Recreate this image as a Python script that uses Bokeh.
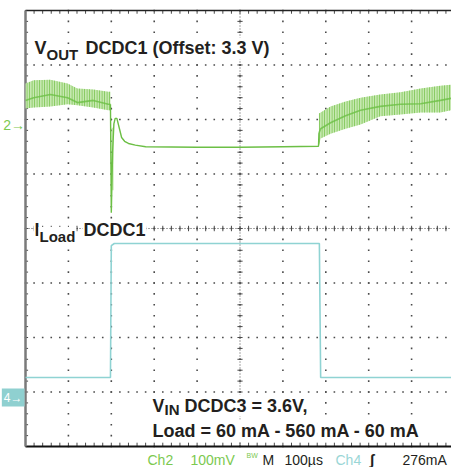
import numpy as np
from bokeh.plotting import figure
from bokeh.models import Range1d, Label
from bokeh.embed import file_html
from bokeh.resources import INLINE

# ---------------- data (time in µs, Ch2 in mV around 3.3 V offset, Ch4 in mA) ----------------
# Ch2 V_OUT DCDC1 ripple band before the load step
ch2_pre_t = [0, 19, 58, 98, 121, 158, 193, 198]
ch2_pre_top = [66, 72, 73, 66, 57, 55, 51, 51]
ch2_pre_bot = [20, 22, 24, 28, 26, 22, 17, 17]
ch2_pre_mid = [35, 40, 46, 40, 31, 35, 28, 28]

# Ch2 transient and flat part during the high load
ch2_step_t = [198, 200, 203, 206, 209, 213, 219, 224, 231, 240, 256, 280, 400, 500, 600, 683, 684]
ch2_step_mv = [28, -171, -60, -8, 2, 2, -17, -33, -40, -44, -47, -50, -51, -51, -50, -49, -25]
ch2_ghost_t = [203, 203]
ch2_ghost_mv = [-15, -130]

# Ch2 ripple band after the load release
ch2_post_t = [684, 688, 711, 746, 781, 827, 874, 921, 967, 993]
ch2_post_top = [11, 13, 24, 33, 40, 46, 50, 57, 62, 64]
ch2_post_bot = [-48, -35, -26, -17, -9, 6, 9, 13, 13, 17]
ch2_post_mid = [-25, -17, -6, 7, 17, 24, 28, 29, 35, 39]

# Ch4 load current
ch4_t = [0, 198, 200, 207, 685, 688, 993]
ch4_ma = [53, 53, 537, 545, 545, 53, 53]

# ---------------- scope geometry ----------------
US_PER_DIV = 100
N_XDIV, N_YDIV = 10, 8
W, H = 451, 467
X0, X1 = -58.3, 993.0
Y0, Y1 = -0.385, 8.183
CH2_ZERO_DIV, CH2_MV_PER_DIV = 6, 100
CH4_ZERO_DIV, CH4_MA_PER_DIV = 1, 200

GREEN = "#6cbf45"
GREEN_LIGHT = "#c6e8b0"
CYAN = "#8fd3d3"
INK = "#231f20"
GRID = "#4a4a4a"


def px2t(px):
    return (px - 25) / 0.429


def py2d(py):
    return (446 - py) / 54.5


p = figure(width=W, height=H, output_backend="svg", toolbar_location=None,
           x_range=Range1d(X0, X1), y_range=Range1d(Y0, Y1),
           x_axis_type=None, y_axis_type=None, min_border=0,
           outline_line_color=None, background_fill_color="white",
           border_fill_color="white")
p.extra_y_ranges = {
    "ch2": Range1d((Y0 - CH2_ZERO_DIV) * CH2_MV_PER_DIV, (Y1 - CH2_ZERO_DIV) * CH2_MV_PER_DIV),
    "ch4": Range1d((Y0 - CH4_ZERO_DIV) * CH4_MA_PER_DIV, (Y1 - CH4_ZERO_DIV) * CH4_MA_PER_DIV),
}

# ---------------- graticule ----------------
minor_x = np.arange(0, N_XDIV * US_PER_DIV + 1, US_PER_DIV / 5)
minor_y = np.arange(0, N_YDIV + 0.001, 0.2)
major_x = np.arange(0, N_XDIV * US_PER_DIV + 1, US_PER_DIV)
major_y = np.arange(0, N_YDIV + 1, 1)
dx, dy = [], []
for mx in major_x[1:]:
    for my in minor_y:
        dx.append(mx); dy.append(my)
for my in major_y[1:-1]:
    for mx in minor_x:
        dx.append(mx); dy.append(my)
p.scatter(dx, dy, marker="square", size=1.6, fill_color=GRID, line_color=None)

# centre cross with minor ticks
cx, cy = N_XDIV * US_PER_DIV / 2, N_YDIV / 2
p.segment(x0=[cx], y0=[0], x1=[cx], y1=[N_YDIV], line_color=GRID, line_dash="1 2", line_width=1)
p.segment(x0=[0], y0=[cy], x1=[N_XDIV * US_PER_DIV], y1=[cy], line_color=GRID, line_dash="1 2", line_width=1)
p.segment(x0=[cx - 6] * len(minor_y), y0=list(minor_y), x1=[cx + 6] * len(minor_y), y1=list(minor_y),
          line_color=GRID, line_width=1)
p.segment(x0=list(minor_x), y0=[cy - 0.05] * len(minor_x), x1=list(minor_x), y1=[cy + 0.05] * len(minor_x),
          line_color=GRID, line_width=1)

# border ticks
p.segment(x0=list(minor_x), y0=[N_YDIV] * len(minor_x), x1=list(minor_x), y1=[N_YDIV - 0.06] * len(minor_x),
          line_color=GRID, line_width=1)
p.segment(x0=list(minor_x), y0=[0] * len(minor_x), x1=list(minor_x), y1=[0.07] * len(minor_x),
          line_color=GRID, line_width=1)
p.segment(x0=[0] * len(minor_y), y0=list(minor_y), x1=[6] * len(minor_y), y1=list(minor_y),
          line_color=GRID, line_width=1)

# borders
p.line([0, N_XDIV * US_PER_DIV], [N_YDIV, N_YDIV], line_color="#222222", line_width=1.5)
p.line([0, N_XDIV * US_PER_DIV], [0, 0], line_color="#111111", line_width=2)
p.line([0, 0], [0, N_YDIV], line_color="#7a7a7a", line_width=2.5)

# ---------------- traces ----------------
for t, top, bot, mid in ((ch2_pre_t, ch2_pre_top, ch2_pre_bot, ch2_pre_mid),
                         (ch2_post_t, ch2_post_top, ch2_post_bot, ch2_post_mid)):
    p.varea(x=t, y1=bot, y2=top, y_range_name="ch2", fill_color=GREEN_LIGHT,
            hatch_pattern="|", hatch_color="#7cc653", hatch_scale=2.5, hatch_weight=1)
    p.line(t, mid, y_range_name="ch2", line_color=GREEN, line_width=1.6, line_alpha=0.8)

p.line(ch2_ghost_t, ch2_ghost_mv, y_range_name="ch2", line_color=GREEN_LIGHT, line_width=2)
p.line(ch2_step_t, ch2_step_mv, y_range_name="ch2", line_color=GREEN, line_width=1.4)

p.line(ch4_t, ch4_ma, y_range_name="ch4", line_color=CYAN, line_width=1.6)

# ---------------- annotations ----------------
def lab(text, px, py, size, color=INK, style="bold", bg="white", align="left", pad=1):
    p.add_layout(Label(x=px2t(px), y=py2d(py), text=text, text_font="Liberation Sans",
                       text_font_size=f"{size}px", text_font_style=style, text_color=color,
                       text_align=align, text_baseline="alphabetic",
                       background_fill_color=bg, padding=pad))


lab("V", 33, 48, 18)
lab("OUT", 45, 54, 15)
lab("DCDC1 (Offset: 3.3 V)", 84, 48, 18)

lab("I", 33, 230, 18)
lab("Load", 38, 236, 15)
lab("DCDC1", 82, 230, 18)

lab("V", 151, 405, 18)
lab("IN", 163, 409, 15)
lab("DCDC3 = 3.6V,", 183, 405, 18)
lab("Load = 60 mA - 560 mA - 60 mA", 151, 430, 18)

# channel markers
lab("2→", 24.5, 125, 14, color="#7cc94f", style="normal", bg=None, align="right", pad=0)
lab("4→", 24, 397, 12, color="white", style="normal", bg="#8fd0d0", align="right", pad=2)

# status line
lab("Ch2", 147, 459, 14, color="#7cc94f", style="normal", bg=None, pad=0)
lab("100mV", 190, 459, 14, color="#7cc94f", style="normal", bg=None, pad=0)
lab("BW", 246, 455, 7, color="#7cc94f", style="normal", bg=None, pad=0)
lab("M", 262, 459, 14, style="normal", bg=None, pad=0)
lab("100µs", 284, 459, 14, style="normal", bg=None, pad=0)
lab("Ch4", 335, 459, 14, color="#9ad6d6", style="normal", bg=None, pad=0)
lab("ʃ", 369, 459, 15, bg=None, pad=0)
lab("276mA", 402, 459, 14, style="normal", bg=None, pad=0)
lab("200mA", 190, 475, 14, color="#9ad6d6", style="normal", bg=None, pad=0)

open("out.html", "w").write(file_html(p, INLINE))
